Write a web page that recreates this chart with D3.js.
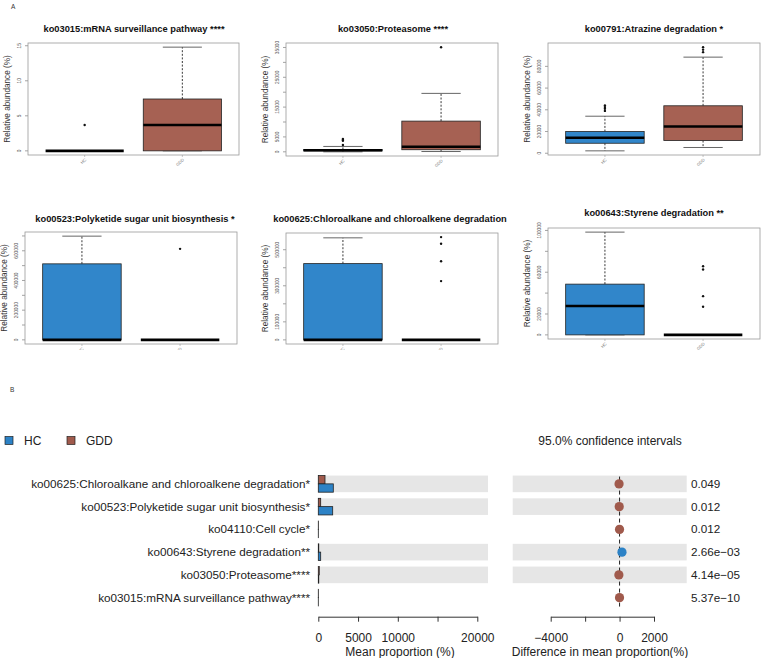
<!DOCTYPE html>
<html><head><meta charset="utf-8">
<script src="https://cdn.jsdelivr.net/npm/d3@7"></script>
<style>body{margin:0;background:#fff} svg{display:block;font-family:"Liberation Sans",Arial,sans-serif}</style>
</head><body><svg id="c" width="762" height="658"></svg>
<script>
// ---------- DATA (panel A: box plots) ----------
const groups = ["HC", "GDD"];
const boxTitles = [
  "ko03015:mRNA surveillance pathway ****",
  "ko03050:Proteasome ****",
  "ko00791:Atrazine degradation *",
  "ko00523:Polyketide sugar unit biosynthesis *",
  "ko00625:Chloroalkane and chloroalkene degradation",
  "ko00643:Styrene degradation **"
];
// [lower whisker, q1, median, q3, upper whisker]
const statsHC = [
  [0, 0, 0, 0, 0],
  [0, 300, 500, 800, 1800],
  [2200, 9200, 14200, 20000, 34100],
  [0, 0, 0, 512000, 698600],
  [0, 0, 0, 423000, 566000],
  [0, 0, 27600, 48600, 98400]
];
const statsGDD = [
  [0, 0, 3.7, 7.4, 14.8],
  [100, 700, 1700, 10300, 19600],
  [5300, 11700, 24600, 43700, 88500],
  [0, 0, 0, 0, 0],
  [0, 0, 0, 0, 0],
  [0, 0, 0, 0, 0]
];
const outliersHC = [[3.7], [4300, 4000, 3700, 2300], [44000, 42500, 41000, 39000], [], [], []];
const outliersGDD = [[], [35100], [97700, 95400, 93100], [613000], [570000, 533000, 436000, 326000], [65700, 62600, 37100, 27000]];
const yTickValues = [
  [0, 5, 10, 15],
  [0, 5000, 10000, 15000, 20000, 25000, 30000, 35000],
  [0, 20000, 40000, 60000, 80000],
  [0, 100000, 200000, 300000, 400000, 500000, 600000, 700000],
  [0, 100000, 200000, 300000, 400000, 500000],
  [0, 20000, 40000, 60000, 80000, 100000]
];
const yTickLabels = [
  [0, 5, 10, 15],
  [0, 5000, 15000, 25000, 35000],
  [0, 20000, 40000, 60000, 80000],
  [0, 200000, 400000, 600000],
  [0, 100000, 300000, 500000],
  [0, 20000, 60000, 100000]
];

// ---------- DATA (panel B: extended error bar) ----------
const pathways = [
  "ko00625:Chloroalkane and chloroalkene degradation*",
  "ko00523:Polyketide sugar unit biosynthesis*",
  "ko04110:Cell cycle*",
  "ko00643:Styrene degradation**",
  "ko03050:Proteasome****",
  "ko03015:mRNA surveillance pathway****"
];
const meanGDD = [843, 300, 10, 60, 120, 8];
const meanHC = [1887, 1811, 5, 300, 60, 2];
const diffMean = [-30, -20, -2, 140, -40, -3];
const diffLow = [-60, -40, -5, -50, -80, -6];
const diffHigh = [0, 0, 0, 290, 0, 0];
const pValues = ["0.049", "0.012", "0.012", "2.66e\u221203", "4.14e\u221205", "5.37e\u221210"];
const meanTicks = [0, 5000, 10000, 15000, 20000];
const meanTickLabels = [0, 5000, 10000, 20000];
const diffTicks = [-4000, -2000, 0, 2000];
const diffTickLabels = [-4000, 0, 2000];

// ---------- STYLE / LAYOUT ----------
const colorHC = "#2C82C6", colorGDD = "#A05A4C";
const boxFill = {HC: "#3186CA", GDD: "#A66153"};
const svg = d3.select("#c");

svg.append("text").attr("x", 11).attr("y", 9).attr("font-size", 6.5).attr("fill", "#333").text("A");
svg.append("text").attr("x", 10).attr("y", 392).attr("font-size", 6.5).attr("fill", "#333").text("B");

const panels = [
  {x0: 28, x1: 239, y0: 43, y1: 155, tx: 134, ty: 32, clip: null},
  {x0: 286, x1: 498, y0: 43, y1: 156, tx: 393, ty: 32, clip: null},
  {x0: 548, x1: 760, y0: 43, y1: 155, tx: 654, ty: 32, clip: null},
  {x0: 25, x1: 237, y0: 232, y1: 344, tx: 135, ty: 222, clip: 350},
  {x0: 286, x1: 498, y0: 233, y1: 344, tx: 390, ty: 222, clip: 350},
  {x0: 548, x1: 760, y0: 228, y1: 339, tx: 654, ty: 216, clip: null}
];

const defs = svg.append("defs");
defs.append("clipPath").attr("id", "clipMid").append("rect")
  .attr("x", 0).attr("y", 180).attr("width", 762).attr("height", 170);

panels.forEach((p, i) => {
  const g = svg.append("g");
  if (p.clip) g.attr("clip-path", "url(#clipMid)");
  const stats = {HC: statsHC[i], GDD: statsGDD[i]};
  const outs = {HC: outliersHC[i], GDD: outliersGDD[i]};
  const all = [...statsHC[i], ...statsGDD[i], ...outliersHC[i], ...outliersGDD[i]];
  const [mn, mx] = d3.extent(all);
  const ext = (mx - mn) * 0.04;
  const y = d3.scaleLinear().domain([mn - ext, mx + ext]).range([p.y1, p.y0]);
  const x = d3.scaleLinear().domain([0.42, 2.58]).range([p.x0, p.x1]);
  const bw = 0.8;

  g.append("text").attr("x", p.tx).attr("y", p.ty).attr("text-anchor", "middle")
    .attr("font-size", 9.3).attr("font-weight", "bold").attr("fill", "#111").text(boxTitles[i]);

  yTickValues[i].forEach(v => {
    g.append("line").attr("x1", p.x0).attr("x2", p.x0 - 3).attr("y1", y(v)).attr("y2", y(v))
      .attr("stroke", "#666").attr("stroke-width", 0.6);
  });
  yTickLabels[i].forEach(v => {
    g.append("text").attr("transform", `translate(${p.x0 - 7},${y(v)}) rotate(-90)`)
      .attr("text-anchor", "middle").attr("font-size", 4.8).attr("fill", "#555").text(v);
  });
  g.append("text").attr("transform", `translate(${p.x0 - 18},${(p.y0 + p.y1) / 2}) rotate(-90)`)
    .attr("text-anchor", "middle").attr("font-size", 8.2).attr("fill", "#333").text("Relative abundance (%)");

  groups.forEach((grp, k) => {
    const cx = x(k + 1);
    g.append("line").attr("x1", cx).attr("x2", cx).attr("y1", p.y1).attr("y2", p.y1 + 2)
      .attr("stroke", "#888").attr("stroke-width", 0.5);
    g.append("text").attr("transform", `translate(${cx + 2},${p.y1 + 5}) rotate(-45)`)
      .attr("text-anchor", "end").attr("font-size", 4.2).attr("fill", "#777").text(grp);
  });

  groups.forEach((grp, k) => {
    const c = k + 1;
    const [lw, q1, md, q3, uw] = stats[grp];
    const cx = x(c);
    const dash = "2,1.6";
    g.append("line").attr("x1", cx).attr("x2", cx).attr("y1", y(q3)).attr("y2", y(uw))
      .attr("stroke", "#222").attr("stroke-width", 0.9).attr("stroke-dasharray", dash);
    g.append("line").attr("x1", cx).attr("x2", cx).attr("y1", y(q1)).attr("y2", y(lw))
      .attr("stroke", "#222").attr("stroke-width", 0.9).attr("stroke-dasharray", dash);
    [lw, uw].forEach(v => {
      g.append("line").attr("x1", x(c - bw / 4)).attr("x2", x(c + bw / 4)).attr("y1", y(v)).attr("y2", y(v))
        .attr("stroke", "#555").attr("stroke-width", 0.9);
    });
    g.append("rect").attr("x", x(c - bw / 2)).attr("width", x(c + bw / 2) - x(c - bw / 2))
      .attr("y", y(q3)).attr("height", Math.max(0, y(q1) - y(q3)))
      .attr("fill", boxFill[grp]).attr("stroke", "#222").attr("stroke-width", 0.8);
    g.append("line").attr("x1", x(c - bw / 2)).attr("x2", x(c + bw / 2)).attr("y1", y(md)).attr("y2", y(md))
      .attr("stroke", "#000").attr("stroke-width", 2.6);
    outs[grp].forEach(v => {
      g.append("circle").attr("cx", cx).attr("cy", y(v)).attr("r", 1.2).attr("fill", "#111");
    });
  });

  g.append("rect").attr("x", p.x0).attr("y", p.y0).attr("width", p.x1 - p.x0).attr("height", p.y1 - p.y0)
    .attr("fill", "none").attr("stroke", "#999").attr("stroke-width", 0.8);
});

// ---------- PANEL B ----------
const fs = 11.7;
[["HC", colorHC, 5, 24], ["GDD", colorGDD, 67, 86]].forEach(([lab, col, sx, tx]) => {
  svg.append("rect").attr("x", sx).attr("y", 436.5).attr("width", 8).attr("height", 8)
    .attr("fill", col).attr("stroke", "#222").attr("stroke-width", 0.7);
  svg.append("text").attr("x", tx).attr("y", 444.5).attr("font-size", 12).attr("fill", "#222").text(lab);
});
svg.append("text").attr("x", 610).attr("y", 444.5).attr("text-anchor", "middle")
  .attr("font-size", 12).attr("fill", "#222").text("95.0% confidence intervals");

const yB = d3.scaleBand().domain(pathways).range([472.5, 609]).paddingInner(0.27).paddingOuter(0.135);
const xMean = d3.scaleLinear().domain([0, 20000]).range([318.3, 477.3]);
const xDiff = d3.scaleLinear().domain([-4000, 2000]).range([550.7, 654]);
const shadedRows = [0, 1, 3, 4];
const bh = yB.bandwidth();

shadedRows.forEach(r => {
  svg.append("rect").attr("x", xMean(0)).attr("width", 488 - xMean(0)).attr("y", yB(pathways[r])).attr("height", bh).attr("fill", "#E6E6E6");
  svg.append("rect").attr("x", 512.7).attr("width", 686.7 - 512.7).attr("y", yB(pathways[r])).attr("height", bh).attr("fill", "#E6E6E6");
});

pathways.forEach((pw, r) => {
  const yc = yB(pw) + bh / 2;
  svg.append("text").attr("x", 310).attr("y", yc + 4).attr("text-anchor", "end")
    .attr("font-size", fs).attr("fill", "#222").text(pw);
  svg.append("rect").attr("x", xMean(0)).attr("y", yB(pw)).attr("width", xMean(meanGDD[r]) - xMean(0)).attr("height", bh / 2)
    .attr("fill", colorGDD).attr("stroke", "#222").attr("stroke-width", 0.8);
  svg.append("rect").attr("x", xMean(0)).attr("y", yB(pw) + bh / 2).attr("width", xMean(meanHC[r]) - xMean(0)).attr("height", bh / 2)
    .attr("fill", colorHC).attr("stroke", "#222").attr("stroke-width", 0.8);
  svg.append("text").attr("x", 691).attr("y", yc + 4).attr("font-size", fs).attr("fill", "#222").text(pValues[r]);
});

svg.append("line").attr("x1", xDiff(0)).attr("x2", xDiff(0)).attr("y1", yB(pathways[0]) + 1).attr("y2", 607)
  .attr("stroke", "#222").attr("stroke-width", 1).attr("stroke-dasharray", "4,3");

pathways.forEach((pw, r) => {
  const yc = yB(pw) + bh / 2;
  const col = diffMean[r] > 0 ? colorHC : colorGDD;
  svg.append("line").attr("x1", xDiff(diffLow[r])).attr("x2", xDiff(diffHigh[r])).attr("y1", yc).attr("y2", yc)
    .attr("stroke", "#222").attr("stroke-width", 1);
  [diffLow[r], diffHigh[r]].forEach(v => svg.append("line").attr("x1", xDiff(v)).attr("x2", xDiff(v))
    .attr("y1", yc - 3).attr("y2", yc + 3).attr("stroke", "#222").attr("stroke-width", 1));
  svg.append("circle").attr("cx", xDiff(diffMean[r])).attr("cy", yc).attr("r", 4.6).attr("fill", col);
});

const fmt = d3.format("d");
const axMean = d3.axisBottom(xMean).tickValues(meanTicks).tickSize(5).tickSizeOuter(0).tickPadding(12)
  .tickFormat(v => meanTickLabels.includes(v) ? fmt(v) : "");
const axDiff = d3.axisBottom(xDiff).tickValues(diffTicks).tickSize(5).tickSizeOuter(0).tickPadding(12)
  .tickFormat(v => diffTickLabels.includes(v) ? d3.format("")(v) : "");
[axMean, axDiff].forEach(ax => {
  const ga = svg.append("g").attr("transform", "translate(0,616.7)").call(ax);
  ga.selectAll("path,line").attr("stroke", "#333");
  ga.selectAll("text").attr("font-size", 12).attr("fill", "#222").attr("font-family", '"Liberation Sans",Arial,sans-serif');
});
svg.append("text").attr("x", 400).attr("y", 655.5).attr("text-anchor", "middle").attr("font-size", 12).attr("fill", "#222").text("Mean proportion (%)");
svg.append("text").attr("x", 600).attr("y", 655.5).attr("text-anchor", "middle").attr("font-size", 12).attr("fill", "#222").text("Difference in mean proportion(%)");
</script></body></html>
